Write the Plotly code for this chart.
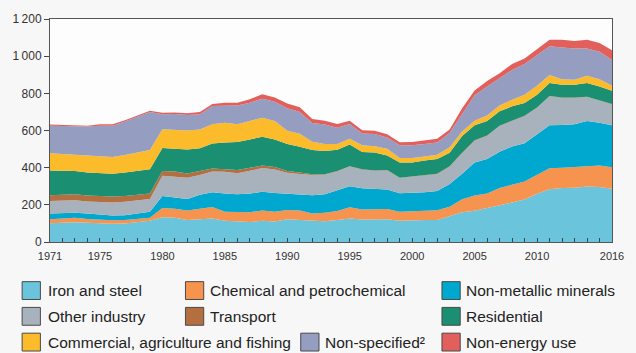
import plotly.graph_objects as go

years = list(range(1971, 2017))

iron_steel = [101, 105, 106, 103, 100, 98, 100, 106, 114, 133, 130, 119, 122, 126, 115, 112,
              108, 114, 110, 122, 119, 112, 112, 118, 126, 121, 123, 122, 114, 118, 118, 119,
              139, 160, 168, 181, 198, 213, 229, 260, 284, 291, 292, 299, 296, 287]
chemical = [21, 21, 24, 21, 19, 19, 19, 20, 17, 50, 49, 50, 55, 62, 48, 49,
            52, 56, 53, 50, 50, 42, 46, 49, 61, 54, 54, 55, 49, 49, 50, 52,
            51, 70, 82, 80, 92, 95, 97, 102, 113, 108, 110, 109, 115, 115]
non_metallic = [32, 30, 28, 29, 28, 25, 25, 28, 32, 64, 61, 63, 77, 80, 98, 96,
                101, 100, 101, 89, 88, 98, 99, 111, 113, 114, 108, 106, 100, 97, 100, 103,
                122, 137, 178, 186, 196, 206, 206, 218, 231, 231, 231, 243, 231, 226]
other_industry = [66, 66, 66, 65, 68, 71, 72, 68, 68, 110, 113, 114, 106, 112, 117, 113,
                  122, 128, 126, 111, 109, 108, 105, 102, 106, 100, 98, 102, 81, 87, 90, 91,
                  93, 111, 117, 124, 138, 137, 145, 142, 156, 145, 142, 129, 120, 112]
transport = [32, 34, 33, 32, 32, 32, 32, 34, 30, 25, 27, 22, 20, 15, 14, 17,
             16, 14, 14, 10, 8, 5, 3, 2, 2, 2, 2, 2, 2, 2, 2, 2,
             2, 2, 2, 2, 2, 2, 2, 2, 2, 2, 2, 2, 2, 2]
residential = [133, 127, 125, 124, 122, 122, 126, 126, 131, 124, 122, 130, 125, 135, 144, 151,
               153, 154, 148, 145, 138, 130, 125, 115, 117, 93, 97, 79, 82, 75, 78, 79,
               73, 90, 81, 78, 78, 77, 69, 69, 69, 69, 69, 73, 73, 72]
commercial = [92, 91, 88, 91, 94, 91, 94, 99, 103, 101, 101, 102, 100, 103, 106, 95,
              99, 103, 99, 71, 70, 44, 37, 31, 30, 36, 33, 36, 24, 24, 22, 24,
              30, 25, 25, 30, 30, 36, 45, 48, 44, 30, 27, 39, 39, 27]
non_specified = [148, 149, 153, 156, 163, 168, 180, 193, 204, 80, 86, 84, 83, 99, 93, 102,
                 99, 102, 104, 122, 118, 101, 105, 87, 80, 64, 66, 60, 68, 68, 68, 66,
                 76, 95, 137, 156, 147, 160, 165, 165, 155, 170, 168, 147, 148, 138]
non_energy = [7, 7, 5, 5, 8, 8, 7, 7, 7, 9, 8, 9, 12, 11, 14, 14,
              18, 24, 23, 25, 25, 22, 21, 20, 18, 17, 18, 18, 17, 18, 18, 19,
              19, 30, 25, 30, 27, 32, 30, 35, 35, 43, 41, 48, 47, 53]

series_names = ["Iron and steel", "Chemical and petrochemical", "Non-metallic minerals",
                "Other industry", "Transport", "Residential",
                "Commercial, agriculture and fishing", "Non-specified²", "Non-energy use"]
series_values = [iron_steel, chemical, non_metallic, other_industry, transport,
                 residential, commercial, non_specified, non_energy]
series_colors = ["#6ac4dc", "#f5934f", "#00a7cf", "#a7b2bc", "#b36f40",
                 "#1a8f72", "#fbbb2b", "#959dc0", "#e2605c"]

x_tick_vals = [1971, 1975, 1980, 1985, 1990, 1995, 2000, 2005, 2010, 2016]
y_tick_vals = [0, 200, 400, 600, 800, 1000, 1200]
y_tick_text = ["0", "200", "400", "600", "800", "1\u2009000", "1\u2009200"]

FONT = "Liberation Sans, Arial, sans-serif"

fig = go.Figure()
for name, vals, col in zip(series_names, series_values, series_colors):
    fig.add_trace(go.Scatter(
        x=years, y=vals, name=name, mode="lines", stackgroup="one",
        line=dict(width=0, color=col), fillcolor=col, showlegend=False,
    ))

# Plot-area geometry in pixels (used to place the hand-built legend)
W, H = 636, 353
ML, MR, MT, MB = 39, 12, 17, 111
pw, ph = W - ML - MR, H - MT - MB


def px_x(px):
    return (px - ML) / pw


def px_y(py):
    return (H - MB - py) / ph


# legend layout: (swatch left x, text left x, row centre y)
legend_slots = [
    (10, 37, 291), (180, 205, 291), (447, 472, 291),
    (10, 37, 317), (180, 205, 317), (447, 472, 317),
    (10, 37, 343), (300, 325, 343), (447, 472, 343),
]
shapes = []
annotations = []
for (sx, tx, cy), name, col in zip(legend_slots, series_names, series_colors):
    shapes.append(dict(
        type="rect", xref="paper", yref="paper",
        x0=px_x(sx), x1=px_x(sx + 19), y0=px_y(cy + 9), y1=px_y(cy - 9),
        fillcolor=col, line=dict(color="#4a4a4a", width=1),
    ))
    annotations.append(dict(
        xref="paper", yref="paper", x=px_x(tx - 2), y=px_y(cy),
        xanchor="left", yanchor="middle", showarrow=False, text=name,
        font=dict(family=FONT, size=15.5, color="#222222"),
    ))

fig.update_layout(
    width=W, height=H,
    margin=dict(l=ML, r=MR, t=MT, b=MB),
    paper_bgcolor="#f7f7f7",
    plot_bgcolor="#fdfdfd",
    font=dict(family=FONT, size=11, color="#333333"),
    shapes=shapes,
    annotations=annotations,
    xaxis=dict(
        range=[1971, 2016], tickvals=x_tick_vals, showgrid=False, zeroline=False,
        showline=True, linecolor="#555555", linewidth=1, mirror=True,
        ticks="inside", ticklen=4, tickcolor="#444444", ticklabelstandoff=4,
        minor=dict(dtick=1, tick0=1971, ticks="inside", ticklen=4, tickcolor="#444444"),
        tickfont=dict(family=FONT, size=11, color="#333333"),
    ),
    yaxis=dict(
        range=[0, 1200], tickvals=y_tick_vals, ticktext=y_tick_text, showgrid=False,
        zeroline=False, showline=True, linecolor="#555555", linewidth=1, mirror=True,
        ticks="outside", ticklen=5, tickcolor="#444444",
        tickfont=dict(family=FONT, size=12, color="#333333"),
    ),
)

fig.write_html("out.html")
